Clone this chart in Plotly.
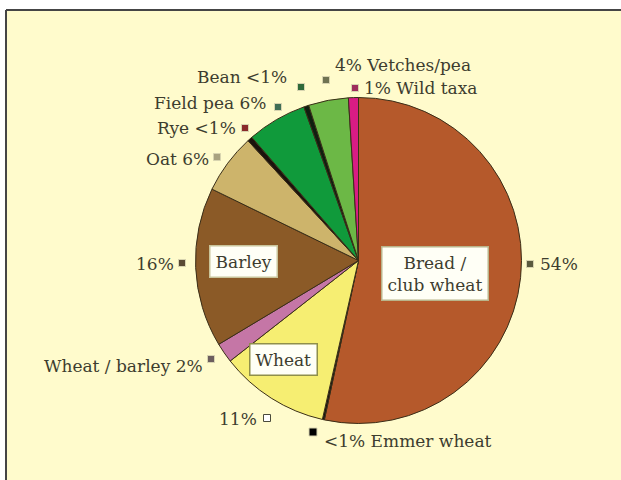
import plotly.graph_objects as go

# ---- data: share of identified plant remains by crop (per cent) ----
categories = ["Bread / club wheat", "Emmer wheat", "Wheat", "Wheat / barley",
              "Barley", "Oat", "Rye", "Field pea", "Bean", "Vetches / pea",
              "Wild taxa"]
shares = [54, 0.2, 11, 2, 16, 6, 0.5, 6, 0.5, 4, 1]
share_labels = ["54%", "<1%", "11%", "2%", "16%", "6%", "<1%", "6%", "<1%",
                "4%", "1%"]
# how each outside label is composed: percentage only, "pct name" or "name pct"
label_formats = ["pct", "pct name", "pct", "name pct", "pct", "name pct",
                 "name pct", "name pct", "name pct", "pct name", "pct name"]
# crops whose name is printed in a box inside the slice
boxed_names = {"Bread / club wheat": "Bread /<br>club wheat",
               "Barley": "Barley", "Wheat": "Wheat"}

# ---- styling ----
slice_colors = ["#b5592b", "#151510", "#f6ee72", "#c576a6", "#8b5a27",
                "#cdb46b", "#1c120c", "#109a3b", "#0f1f10", "#6cb846",
                "#d91c84"]
swatch_colors = ["#5b5a3e", "#000000", "#ffffff", "#6c5e5e", "#5a4a33",
                 "#a9a27f", "#8a2a2a", "#3f6e56", "#2f6a3a", "#6f7352",
                 "#9e2c5c"]
W, H = 621, 480
CX, CY, R = 358.5, 260.5, 163          # pie centre and radius, pixels
BG = "#fffbcc"
TEXT = "#3d3d2f"
FONT = "DejaVu Serif"

# label placement, pixels: swatch centre, text anchor point, text side
swatch_pos = [(530, 264), (313, 432), (267, 418), (211, 359), (182, 263),
              (217, 157), (245, 128), (278, 107), (301, 87), (326, 80),
              (355, 88)]
text_pos = [(538, 264), (322, 441), (259, 419), (205, 366), (176, 264),
            (211, 159), (238, 128), (268, 103), (289, 77), (333, 65),
            (362, 88)]
text_side = ["right", "right", "left", "left", "left", "left", "left",
             "left", "left", "right", "right"]
box_pos = {"Bread / club wheat": (434.5, 273.5), "Barley": (243.5, 261),
           "Wheat": (283.5, 359)}
box_border = {"Bread / club wheat": "#b9b48a", "Barley": "#c9c49a",
              "Wheat": "#8f8f4a"}


def px(x):
    return x / W


def py(y):
    return 1 - y / H


fig = go.Figure(go.Pie(
    labels=categories,
    values=shares,
    sort=False,
    direction="clockwise",
    rotation=0,
    textinfo="none",
    hoverinfo="label+percent",
    marker=dict(colors=slice_colors, line=dict(color="#3a2e18", width=1)),
    domain=dict(x=[px(CX - R), px(CX + R)], y=[py(CY + R), py(CY - R)]),
    showlegend=False,
))

shapes = [
    # cream panel with a rule along its top and left edges
    dict(type="rect", xref="paper", yref="paper", x0=px(6), x1=1.02, y0=-0.02,
         y1=py(10), fillcolor=BG, line=dict(color=BG, width=0), layer="below"),
    dict(type="line", xref="paper", yref="paper", x0=px(6), x1=1.02,
         y0=py(10), y1=py(10), line=dict(color="#454545", width=2)),
    dict(type="line", xref="paper", yref="paper", x0=px(6), x1=px(6),
         y0=-0.02, y1=py(10), line=dict(color="#454545", width=2)),
]

annotations = []
for i, name in enumerate(categories):
    # small colour key square beside each label
    sx, sy = swatch_pos[i]
    half = 4 if name == "Emmer wheat" else 3.5
    shapes.append(dict(
        type="rect", xref="paper", yref="paper",
        x0=px(sx - half), x1=px(sx + half), y0=py(sy + half), y1=py(sy - half),
        fillcolor=swatch_colors[i],
        line=dict(color="#4a4a3a" if swatch_colors[i] == "#ffffff" else "#d8d4b0",
                  width=1)))

    short = name if name == "Wheat / barley" else name.replace(" / ", "/")
    if label_formats[i] == "pct":
        txt = share_labels[i]
    elif label_formats[i] == "pct name":
        txt = f"{share_labels[i]} {short}"
    else:
        txt = f"{short} {share_labels[i]}"
    tx, ty = text_pos[i]
    annotations.append(dict(
        x=px(tx), y=py(ty), xref="paper", yref="paper", text=txt,
        showarrow=False, xanchor="left" if text_side[i] == "right" else "right",
        yanchor="middle", font=dict(family=FONT, size=17, color=TEXT)))

for name, boxed in boxed_names.items():
    bx, by = box_pos[name]
    annotations.append(dict(
        x=px(bx), y=py(by), xref="paper", yref="paper", text=boxed,
        showarrow=False, xanchor="center", yanchor="middle", align="center",
        bgcolor="#fffff6", bordercolor=box_border[name], borderwidth=1.5,
        borderpad=5, font=dict(family=FONT, size=17, color=TEXT)))

fig.update_layout(
    width=W, height=H,
    margin=dict(l=0, r=0, t=0, b=0),
    paper_bgcolor="#ffffff",
    plot_bgcolor="#ffffff",
    shapes=shapes,
    annotations=annotations,
)

fig.write_html("out.html")
